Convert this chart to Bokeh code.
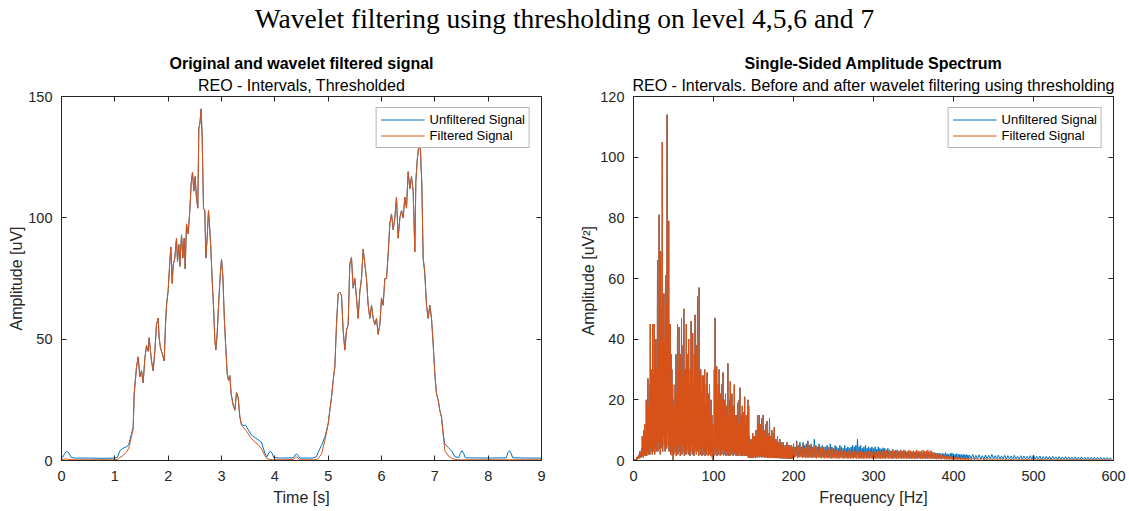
import numpy as np
from bokeh.plotting import figure
from bokeh.models import (Range1d, LinearAxis, Legend, LegendItem, Title, Div,
                          FixedTicker, Spacer)
from bokeh.layouts import column, row
from bokeh.embed import file_html
from bokeh.resources import INLINE

# ------------------------------------------------------------------ data
# time signal: quiet segments (unfiltered / filtered differ) and bursts (equal)
quiet1_t = [0.0, 0.03, 0.06, 0.10, 0.14, 0.18, 0.25, 0.5, 0.8, 1.0, 1.05, 1.094, 1.15, 1.219, 1.26, 1.3125, 1.344]
quiet1_unf = [1.2, 1.5, 3.0, 3.7, 3.0, 1.3, 1.0, 1.0, 0.9, 1.0, 1.3, 4.0, 5.0, 5.7, 6.5, 11.0, 13.7]
quiet1_filt = [0.4, 0.5, 0.6, 0.6, 0.5, 0.4, 0.3, 0.3, 0.3, 0.3, 0.4, 1.2, 2.0, 3.5, 5.0, 9.9, 13.0]

burst1_t = [1.363, 1.406, 1.4375, 1.469, 1.5, 1.531, 1.5625, 1.594, 1.625, 1.644,
            1.669, 1.6875, 1.719, 1.75, 1.781, 1.8125, 1.831, 1.856, 1.894, 1.925,
            1.95, 1.969, 2.0, 2.031, 2.05, 2.075, 2.094, 2.125, 2.156, 2.175,
            2.2, 2.219, 2.25, 2.275, 2.3, 2.319, 2.344, 2.375, 2.406, 2.431,
            2.456, 2.481, 2.506, 2.531, 2.556, 2.575, 2.594, 2.619, 2.6375, 2.6625,
            2.6875, 2.706, 2.731, 2.756, 2.781, 2.8, 2.825, 2.85, 2.875, 2.894,
            2.919, 2.944, 2.975, 3.0, 3.025, 3.056, 3.081, 3.106, 3.131, 3.156,
            3.181, 3.219, 3.25, 3.281, 3.3125, 3.344]
burst1_amp = [27.5, 38.5, 42.7, 34.5, 37, 32, 42, 47.4, 45, 50.6,
              45, 41, 37, 45, 56, 58.7, 50.5, 46.4, 43.7, 41,
              56, 64, 70, 82, 88, 73, 80.6, 83.4, 91.6, 82,
              89, 80, 93, 83.4, 91.6, 79, 97.5, 93.5, 103, 114,
              118.8, 111, 117, 108, 104, 137, 138.7, 144.9, 133, 104,
              103, 83.4, 91.6, 103, 95, 87.5, 74.5, 63.5, 49.7, 45.6,
              52.4, 63.5, 76, 83, 76, 56.8, 46.4, 36, 33, 35,
              27.5, 22.8, 20.7, 28, 26, 17.9]

quiet2_t = [3.375, 3.406, 3.456, 3.5, 3.5625, 3.625, 3.6875, 3.75, 3.8125, 3.85, 3.89, 3.92, 3.95,
            3.98, 4.1, 4.35, 4.38, 4.41, 4.44, 4.47, 4.7, 4.78, 4.8125, 4.875, 4.9375]
quiet2_unf = [15, 14.5, 14.5, 12.7, 10.5, 9.5, 8.5, 7.5, 3.0, 1.5, 3.3, 3.7, 3.0,
              1.2, 1.0, 1.1, 2.3, 2.7, 2.0, 1.0, 1.0, 1.5, 3.4, 6.2, 9.6]
quiet2_filt = [14.5, 13.8, 12.4, 11, 9, 7.6, 6.6, 4.8, 2.0, 0.8, 0.5, 0.4, 0.3,
               0.3, 0.3, 0.4, 1.2, 1.5, 1.0, 0.3, 0.3, 0.4, 0.8, 2.7, 8.2]

burst2_t = [5.0, 5.031, 5.0625, 5.094, 5.125, 5.156, 5.1875, 5.219, 5.25, 5.281,
            5.3125, 5.344, 5.375, 5.406, 5.4375, 5.469, 5.5, 5.531, 5.5625, 5.594,
            5.625, 5.656, 5.6875, 5.719, 5.75, 5.781, 5.8125, 5.844, 5.875, 5.906,
            5.9375, 5.969, 6.0, 6.031, 6.0625, 6.094, 6.125, 6.156, 6.1875, 6.219,
            6.25, 6.281, 6.3125, 6.344, 6.375, 6.406, 6.4375, 6.469, 6.5, 6.531,
            6.5625, 6.594, 6.625, 6.644, 6.669, 6.706, 6.731, 6.756, 6.781, 6.8125,
            6.844, 6.875, 6.906, 6.9375, 6.969, 7.0, 7.031, 7.0625, 7.094, 7.125,
            7.156]
burst2_amp = [15.1, 20.6, 26, 33, 38.5, 56, 68.7, 69.4, 68, 53.6,
              45.5, 53.6, 56, 81, 83.6, 71, 75, 67, 58.6, 69.6,
              75, 87.1, 81, 75, 64, 58.6, 64, 58.6, 56, 58.6,
              52, 56, 67, 64, 75, 75, 85, 97.5, 101.6, 95,
              100, 108.5, 91.6, 100, 103, 100, 108.5, 104, 119, 112,
              117, 111, 86, 115, 123.7, 131, 127.6, 114, 83.6, 77,
              64, 58.6, 64, 58.6, 48, 35.7, 27.5, 25, 20.6, 17.9,
              11]

quiet3_t = [7.1875, 7.25, 7.3125, 7.375, 7.45, 7.48, 7.51, 7.54, 7.57, 8.0, 8.34, 8.37, 8.40, 8.43, 8.46, 8.7, 9.0]
quiet3_unf = [6.8, 5.4, 4.0, 1.6, 1.2, 3.0, 4.0, 3.0, 1.1, 1.0, 1.1, 3.3, 4.0, 3.0, 1.1, 1.0, 1.0]
quiet3_filt = [4.0, 2.0, 1.0, 0.4, 0.3, 0.3, 0.3, 0.3, 0.3, 0.3, 0.3, 0.3, 0.3, 0.3, 0.3, 0.3, 0.3]

# spectrum, 0-200 Hz (both signals coincide): bin peaks at f and troughs at f+0.5
band_hi_freq = np.arange(0, 200, 1.0)
band_hi = [0, 0.3, 0.5, 0.5, 1, 1, 1.5, 2, 3, 2.5,
           4, 8, 6, 10, 12, 9, 20, 15, 27, 18,
           25, 45, 22, 30, 45, 28, 45, 35, 40, 30,
           66, 38, 81, 45, 69, 50, 105, 48, 55, 40,
           61, 52, 114, 58, 79, 45, 45, 35, 30, 25,
           20, 18, 25, 35, 22, 45, 30, 44, 25, 35,
           47, 28, 38, 50, 30, 30, 45, 22, 35, 40,
           25, 30, 46, 28, 42, 25, 35, 48, 30, 38,
           54, 28, 57, 25, 30, 22, 28, 20, 28, 30,
           18, 25, 29, 20, 22, 25, 15, 20, 15, 12,
           8, 30, 47, 18, 31, 20, 25, 30, 18, 22,
           25, 20, 29, 15, 20, 22, 18, 18, 32, 15,
           20, 26, 15, 22, 18, 18, 25, 15, 14, 15,
           19, 12, 20, 24, 14, 15, 18, 12, 16, 21,
           12, 15, 12, 20, 18, 8, 6, 7, 5, 9,
           8, 8, 6, 10, 8, 15, 12, 15, 10, 12,
           14, 10, 15, 9, 10, 12, 8, 13, 9, 9,
           14, 8, 8, 10, 7, 9, 11, 7, 7, 6,
           8, 6, 6, 7, 5, 6, 5, 6, 5, 4,
           5, 5, 6, 4.5, 5, 5, 4.5, 5, 4, 4.5]
band_lo_freq = np.arange(0.5, 200, 1.0)
band_lo = [0, 0.2, 0.2, 0.3, 0.4, 0.5, 0.6, 0.8, 1, 1,
           1.2, 1.5, 1, 2, 1.5, 2.5, 1.5, 3, 2, 3,
           2, 4, 3, 2, 5, 3, 2, 4, 3, 5,
           3, 6, 4, 2, 7, 4, 3, 8, 5, 3,
           6, 4, 9, 5, 3, 6, 2, 3, 1.5, 0.2,
           2, 4, 3, 1.5, 4, 2, 5, 3, 1.5, 4,
           2, 5, 3, 1.5, 4, 2, 3, 5, 2, 4,
           1.5, 3, 5, 2, 4, 1.5, 3, 4, 2, 5,
           3, 1.5, 4, 2, 3, 1.5, 4, 2, 3, 1.5,
           3, 2, 4, 1.5, 3, 2, 1.5, 2.5, 1, 0.2,
           1.5, 3, 2, 4, 1.5, 3, 2, 4, 1.5, 3,
           2, 3.5, 1.5, 3, 2, 1.5, 3, 2, 1.5, 3,
           1.5, 2.5, 2, 3, 1.5, 2, 2.5, 1.5, 2, 1.5,
           2.5, 1.5, 2, 3, 1.5, 2, 1.5, 2.5, 1.5, 2,
           1.5, 2, 1.5, 1, 1.5, 1, 0.8, 1, 0.8, 1,
           1, 1.2, 0.8, 1.5, 1, 1.2, 1.5, 1, 1.2, 1.5,
           1, 1.5, 1.2, 1, 1.5, 1, 1.2, 1, 0.8, 1.2,
           1, 0.8, 1.2, 1, 0.8, 1, 0.8, 1, 0.8, 0.8,
           0.8, 1, 0.8, 0.7, 0.8, 0.7, 0.8, 0.7, 0.7, 0.8,
           0.7, 0.7, 0.6, 0.7, 0.6, 0.7, 0.6, 0.6, 0.7, 0.6]

# spectrum, 200-420 Hz: peaks at even f, troughs at odd f
tailA_hi_freq = np.arange(200, 420, 2.0)
tailA_lo_freq = np.arange(201, 420, 2.0)
tailA_filt_hi = [5, 4, 6, 4.5, 5, 4, 5.5, 4, 5, 6,
                 4.5, 5, 4, 5, 4.5, 3.5, 5, 4, 4.5, 3.5,
                 4, 3.5, 4.5, 3.5, 4, 3, 4, 3.5, 3, 4,
                 3.5, 3, 3.5, 2.8, 3.5, 3, 3.2, 2.8, 3.5, 3,
                 3.5, 3, 3.2, 2.8, 3, 3.3, 2.8, 3, 3.2, 2.8,
                 3, 3.2, 2.8, 3, 3.3, 2.8, 3.2, 3, 3.5, 3,
                 3.3, 3, 3.5, 3.2, 3, 3.5, 3.2, 3.3, 3, 3.5,
                 3.3, 3, 3.5, 3.2, 3, 3.3, 3, 3.5, 3.2, 3,
                 3.2, 3.5, 3, 3.2, 3.5, 3, 3.3, 2.8, 2.5, 2.2,
                 2.2, 2, 2, 1.8, 1.6, 1.8, 1.5, 1.4, 1.5, 1.2,
                 1.2, 1.1, 1.2, 1, 1, 0.9, 0.9, 0.8, 0.8, 0.8]
tailA_filt_lo = [1, 1.2, 0.8, 1, 1.2, 0.8, 1, 0.8, 1, 0.8,
                 1, 0.8, 1, 0.8, 0.7, 1, 0.8, 0.7, 0.8, 0.7,
                 0.8, 0.7, 0.8, 0.6, 0.7, 0.8, 0.6, 0.7, 0.6, 0.8,
                 0.7, 0.6, 0.8, 0.6, 0.7, 0.6, 0.7, 0.6, 0.8, 0.6,
                 0.7, 0.6, 0.7, 0.5, 0.7, 0.6, 0.7, 0.5, 0.7, 0.6,
                 0.7, 0.5, 0.7, 0.6, 0.5, 0.7, 0.6, 0.5, 0.7, 0.6,
                 0.7, 0.5, 0.6, 0.7, 0.5, 0.6, 0.7, 0.5, 0.6, 0.7,
                 0.5, 0.6, 0.7, 0.5, 0.6, 0.7, 0.5, 0.6, 0.7, 0.5,
                 0.6, 0.7, 0.5, 0.6, 0.7, 0.5, 0.6, 0.5, 0.5, 0.4,
                 0.5, 0.4, 0.4, 0.5, 0.4, 0.3, 0.4, 0.3, 0.3, 0.3,
                 0.3, 0.3, 0.2, 0.3, 0.2, 0.3, 0.2, 0.2, 0.2, 0.2]
tailA_unf_hi = [5.5, 4.5, 6.5, 5, 6, 4.5, 6, 5, 5.5, 6.5,
                5, 5.5, 4.5, 7, 5, 4.5, 5.5, 4.5, 5, 4.5,
                4.5, 5, 4, 5.5, 4.5, 4, 5, 4.5, 4, 5,
                4.5, 4, 5, 4, 4.5, 4, 4.5, 5, 4.5, 5,
                7, 4.5, 5, 4, 4.5, 5, 4, 4.5, 4, 4.5,
                4, 4.5, 3.8, 4.5, 4, 3.8, 4.2, 4, 3.5, 4,
                3.5, 3.2, 3.8, 3, 3.5, 3.2, 3, 3.5, 3, 3.2,
                3, 2.8, 3.2, 3, 2.8, 3, 2.8, 3, 2.6, 2.8,
                2.8, 2.6, 3, 2.5, 2.8, 2.5, 2.6, 2.4, 2.6, 2.5,
                2.4, 2.5, 2.2, 2.4, 2.2, 2.6, 2.2, 2, 2.3, 2.5,
                2.2, 2, 2.3, 2, 2.1, 1.9, 2, 1.9, 2, 1.8]
tailA_unf_lo = [1.2, 1.5, 1, 1.3, 1.5, 1, 1.2, 1.5, 1, 1.3,
                1.2, 1, 1.4, 1.2, 1, 1.3, 1.1, 1, 1.2, 1,
                1.1, 1, 1.2, 0.9, 1.1, 1, 1.2, 0.9, 1, 1.1,
                1, 0.9, 1.1, 1, 0.9, 1.1, 1, 0.9, 1, 1.1,
                1, 0.9, 1, 1.1, 0.9, 1, 0.9, 1.1, 1, 0.9,
                1, 0.9, 1, 0.8, 0.9, 1, 0.8, 0.9, 1, 0.8,
                0.9, 0.8, 1, 0.8, 0.9, 0.8, 0.9, 0.8, 0.9, 0.8,
                0.8, 0.9, 0.7, 0.8, 0.9, 0.7, 0.8, 0.7, 0.8, 0.7,
                0.8, 0.7, 0.8, 0.7, 0.8, 0.7, 0.7, 0.8, 0.7, 0.7,
                0.7, 0.8, 0.6, 0.7, 0.7, 0.6, 0.7, 0.6, 0.7, 0.6,
                0.7, 0.6, 0.6, 0.7, 0.6, 0.6, 0.7, 0.6, 0.6, 0.6]

# spectrum, 420-600 Hz: peaks every 4 Hz, troughs 2 Hz later
tailB_hi_freq = np.arange(420, 600, 4.0)
tailB_lo_freq = np.arange(422, 600, 4.0)
tailB_unf_hi = [1.8, 2, 1.7, 1.9, 1.6, 1.8, 1.7, 2, 1.6, 1.8,
                1.5, 1.7, 1.6, 1.5, 1.7, 1.4, 1.6, 1.5, 1.4, 1.6,
                1.8, 1.4, 1.5, 1.3, 1.4, 1.3, 1.4, 1.2, 1.3, 1.2,
                1.3, 1.2, 1.1, 1.2, 1.1, 1.2, 1.0, 1.1, 1.0, 1.1,
                1.0, 1.1, 0.9, 1.0, 0.9]
tailB_unf_lo = [0.6, 0.5, 0.6, 0.5, 0.5, 0.6, 0.5, 0.5, 0.5, 0.5,
                0.5, 0.4, 0.5, 0.4, 0.5, 0.4, 0.4, 0.5, 0.4, 0.4,
                0.4, 0.4, 0.3, 0.4, 0.4, 0.3, 0.4, 0.3, 0.3, 0.4,
                0.3, 0.3, 0.3, 0.3, 0.3, 0.3, 0.3, 0.3, 0.3, 0.3,
                0.3, 0.3, 0.3, 0.3, 0.3]
tailB_filt_hi = [0.8, 0.7, 0.8, 0.6, 0.7, 0.6, 0.6, 0.5, 0.6, 0.5,
                 0.5, 0.5, 0.5, 0.4, 0.5, 0.4, 0.4, 0.4, 0.4, 0.4,
                 0.4, 0.4, 0.4, 0.3, 0.4, 0.3, 0.3, 0.3, 0.3, 0.3,
                 0.3, 0.3, 0.3, 0.3, 0.3, 0.3, 0.3, 0.3, 0.3, 0.3,
                 0.3, 0.3, 0.3, 0.3, 0.3]
tailB_filt_lo = [0.2, 0.2, 0.2, 0.2, 0.15, 0.15, 0.15, 0.15, 0.1, 0.1,
                 0.1, 0.1, 0.1, 0.1, 0.1, 0.1, 0.1, 0.1, 0.1, 0.1,
                 0.1, 0.1, 0.1, 0.1, 0.1, 0.1, 0.1, 0.1, 0.1, 0.1,
                 0.1, 0.1, 0.1, 0.1, 0.1, 0.1, 0.1, 0.1, 0.1, 0.1,
                 0.1, 0.1, 0.1, 0.1, 0.1]

time_ticks = [0, 1, 2, 3, 4, 5, 6, 7, 8, 9]
amp_ticks = [0, 50, 100, 150]
freq_ticks = [0, 100, 200, 300, 400, 500, 600]
spec_ticks = [0, 20, 40, 60, 80, 100, 120]

# ------------------------------------------------------------------ assemble
t_sec = quiet1_t + burst1_t + quiet2_t + burst2_t + quiet3_t
amp_unfiltered = quiet1_unf + burst1_amp + quiet2_unf + burst2_amp + quiet3_unf
amp_filtered = quiet1_filt + burst1_amp + quiet2_filt + burst2_amp + quiet3_filt


def interleave(parts):
    fx, fy = [], []
    for hf, hv, lf, lv in parts:
        for a, b, c, d in zip(hf, hv, lf, lv):
            fx += [float(a), float(c)]
            fy += [b, d]
    return fx, fy


spec_freq_unf, spec_unf = interleave([(band_hi_freq, band_hi, band_lo_freq, band_lo),
                                      (tailA_hi_freq, tailA_unf_hi, tailA_lo_freq, tailA_unf_lo),
                                      (tailB_hi_freq, tailB_unf_hi, tailB_lo_freq, tailB_unf_lo)])
spec_freq_filt, spec_filt = interleave([(band_hi_freq, band_hi, band_lo_freq, band_lo),
                                        (tailA_hi_freq, tailA_filt_hi, tailA_lo_freq, tailA_filt_lo),
                                        (tailB_hi_freq, tailB_filt_hi, tailB_lo_freq, tailB_filt_lo)])

# ------------------------------------------------------------------ style
BLUE = "#0072BD"
ORANGE = "#D95319"
AX = "#262626"
FONT = "Liberation Sans"


def make_fig(xr, yr, xticks, yticks, xlabel, ylabel, title, subtitle, mb_left, mb_right):
    p = figure(frame_width=480, frame_height=364,
               x_range=Range1d(*xr), y_range=Range1d(*yr),
               output_backend="svg", toolbar_location=None,
               min_border_left=mb_left, min_border_right=mb_right,
               min_border_top=56, min_border_bottom=51,
               background_fill_color="white", border_fill_color="white",
               outline_line_color=None)
    p.grid.visible = False
    p.xaxis.ticker = FixedTicker(ticks=xticks)
    p.yaxis.ticker = FixedTicker(ticks=yticks)
    p.xaxis.axis_label = xlabel
    p.yaxis.axis_label = ylabel
    for ax in [p.xaxis[0], p.yaxis[0]]:
        ax.axis_line_color = AX
        ax.major_tick_line_color = AX
        ax.major_tick_in = 5
        ax.major_tick_out = 0
        ax.minor_tick_line_color = None
        ax.major_label_text_font = FONT
        ax.major_label_text_font_size = "14.5px"
        ax.major_label_text_color = AX
        ax.axis_label_text_font = FONT
        ax.axis_label_text_font_size = "16px"
        ax.axis_label_text_font_style = "normal"
        ax.axis_label_text_color = AX
    p.xaxis.major_label_standoff = 10
    p.xaxis.axis_label_standoff = 5
    p.yaxis.major_label_standoff = 9
    p.yaxis.axis_label_standoff = 0
    # mirrored box axes
    for loc, ticks in (("above", xticks), ("right", yticks)):
        a = LinearAxis(ticker=FixedTicker(ticks=ticks),
                       major_label_overrides={v: "" for v in ticks},
                       major_label_text_font_size="0px",
                       major_label_standoff=0,
                       axis_line_color=AX, major_tick_line_color=AX,
                       major_tick_in=5, major_tick_out=0,
                       minor_tick_line_color=None)
        p.add_layout(a, loc)
    p.add_layout(Title(text=subtitle, align="center", text_font=FONT,
                       text_font_size="16px", text_font_style="normal",
                       text_color="#000000", standoff=5), "above")
    p.add_layout(Title(text=title, align="center", text_font=FONT,
                       text_font_size="16px", text_font_style="bold",
                       text_color="#000000", standoff=2), "above")
    return p


def add_legend(p, r1, r2):
    leg = Legend(items=[LegendItem(label="Unfiltered Signal", renderers=[r1]),
                        LegendItem(label="Filtered Signal", renderers=[r2])],
                 location="top_right", margin=11, padding=4, spacing=1,
                 glyph_width=44, glyph_height=15, label_height=15,
                 label_standoff=5, label_text_font=FONT,
                 label_text_font_size="13px", label_text_color="#000000",
                 border_line_color="#6e6e6e", border_line_width=1,
                 background_fill_color="white", background_fill_alpha=1)
    p.add_layout(leg)


p1 = make_fig((0, 9), (0, 150), time_ticks, amp_ticks, "Time [s]", "Amplitude [uV]",
              "Original and wavelet filtered signal", "REO - Intervals, Thresholded", 56, 34)
r1 = p1.line(t_sec, amp_unfiltered, line_color=BLUE, line_width=1)
r2 = p1.line(t_sec, amp_filtered, line_color=ORANGE, line_width=1)
add_legend(p1, r1, r2)

p2 = make_fig((0, 600), (0, 120), freq_ticks, spec_ticks, "Frequency [Hz]", "Amplitude  [uV\u00b2]",
              "Single-Sided Amplitude Spectrum",
              "REO - Intervals. Before and after wavelet filtering using thresholding", 58, 16)
s1 = p2.line(spec_freq_unf, spec_unf, line_color=BLUE, line_width=1)
s2 = p2.line(spec_freq_filt, spec_filt, line_color=ORANGE, line_width=1)
add_legend(p2, s1, s2)

sup = Div(text='<div style="width:1129px;text-align:center;font-family:\'Liberation Serif\';'
               'font-size:27.5px;line-height:38px;color:#000;">'
               'Wavelet filtering using thresholding on level 4,5,6 and 7</div>',
          width=1129, height=40, margin=(0, 0, 0, 0))

layout = column(sup, row(Spacer(width=5, height=471, margin=(0, 0, 0, 0)), p1, p2, spacing=0), spacing=0)
open("out.html", "w").write(file_html(layout, INLINE))
